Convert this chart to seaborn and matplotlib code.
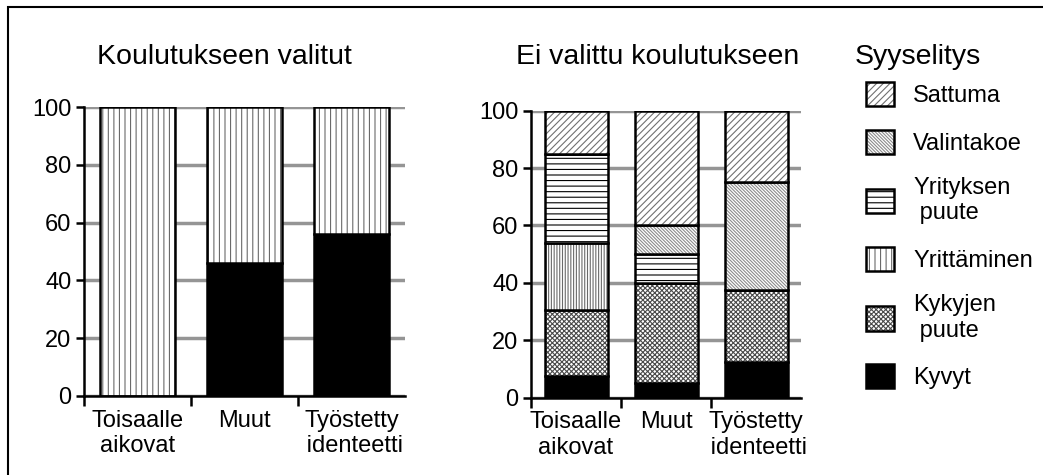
import matplotlib
matplotlib.use("Agg")
import matplotlib.pyplot as plt
from matplotlib.colors import to_rgba
from matplotlib.patches import Patch, Rectangle
import seaborn as sns

categories = ["Toisaalle\naikovat", "Muut", "Työstetty\n identeetti"]
reasons = ["Sattuma", "Valintakoe", "Yrityksen\n puute", "Yrittäminen", "Kykyjen\n puute", "Kyvyt"]

# Koulutukseen valitut, % (bottom -> top: Kyvyt, Yrittäminen)
valitut_kyvyt = [0, 46, 56]
valitut_yrittaminen = [100, 54, 44]

# Ei valittu koulutukseen, %
ei_kyvyt = [7.5, 5, 12.5]
ei_kykyjen_puute = [23, 35, 25]
ei_yrittaminen = [23.5, 0, 0]
ei_yrityksen_puute = [31, 10, 0]
ei_valintakoe = [0, 10, 37.5]
ei_sattuma = [15, 40, 25]

titles = ["Koulutukseen valitut", "Ei valittu koulutukseen"]
legend_title = "Syyselitys"
yticks = [0, 20, 40, 60, 80, 100]

# face colour, hatch, hatch colour
styles = {
    "Sattuma": ("white", "/////", "#707070"),
    "Valintakoe": ("white", "\\\\\\\\\\\\\\\\\\\\", "#8c8c8c"),
    "Yrityksen\n puute": ("white", "---", "black"),
    "Yrittäminen": ("white", "|||", "#6a6a6a"),
    "Kykyjen\n puute": ("white", "xxxxxxx", "#4a4a4a"),
    "Kyvyt": ("black", "", "black"),
}

sns.set_style("ticks")
plt.rcParams["font.family"] = ["Liberation Sans", "DejaVu Sans"]
plt.rcParams["text.color"] = "black"
plt.rcParams["axes.edgecolor"] = "black"
plt.rcParams["xtick.color"] = "black"
plt.rcParams["ytick.color"] = "black"
plt.rcParams["hatch.linewidth"] = 0.8

W, H = 1043, 475
fig = plt.figure(figsize=(W / 100, H / 100), dpi=100)
ax1 = fig.add_axes([84 / W, 1 - 396 / H, 321 / W, 289 / H])
ax2 = fig.add_axes([531 / W, 1 - 397.5 / H, 270 / W, 286.8 / H])


def draw_stack(ax, series, dense=False):
    bottom = [0] * len(categories)
    for name, values in series:
        face, hatch, hcolor = styles[name]
        if dense and name == "Yrittäminen":
            hatch = "||||||"
        sns.barplot(x=categories, y=values, bottom=bottom, color=face, width=0.7,
                    saturation=1, errorbar=None, edgecolor="black", linewidth=1.8, ax=ax)
        for bar in ax.containers[-1]:
            if hatch:
                bar.set_hatch(hatch)
                bar._hatch_color = to_rgba(hcolor)
        bottom = [b + v for b, v in zip(bottom, values)]


draw_stack(ax1, [("Kyvyt", valitut_kyvyt), ("Yrittäminen", valitut_yrittaminen)])
draw_stack(ax2, [("Kyvyt", ei_kyvyt), ("Kykyjen\n puute", ei_kykyjen_puute),
                 ("Yrittäminen", ei_yrittaminen), ("Yrityksen\n puute", ei_yrityksen_puute),
                 ("Valintakoe", ei_valintakoe), ("Sattuma", ei_sattuma)], dense=True)

for ax in (ax1, ax2):
    ax.set_ylim(0, 100)
    ax.set_xlim(-0.5, 2.5)
    ax.set_yticks(yticks)
    ax.yaxis.grid(True, color="#959595", linewidth=2.5)
    ax.xaxis.grid(False)
    ax.set_axisbelow(True)
    sns.despine(ax=ax)
    for s in ("left", "bottom"):
        ax.spines[s].set_linewidth(1.8)
    ax.set_xticks([-0.5, 0.5, 1.5], minor=True)
    ax.tick_params(axis="x", which="major", length=0, pad=10, labelsize=17)
    ax.tick_params(axis="x", which="minor", length=7, width=1.8)
    ax.tick_params(axis="y", length=6, width=1.8, pad=3, labelsize=17)
    ax.set_xlabel("")
    ax.set_ylabel("")

fig.text(97 / W, 1 - 64 / H, titles[0], fontsize=20.5, va="baseline")
fig.text(516 / W, 1 - 64 / H, titles[1], fontsize=20.5, va="baseline")
fig.text(855 / W, 1 - 64 / H, legend_title, fontsize=20.5, va="baseline")

handles = []
for name in reasons:
    face, hatch, hcolor = styles[name]
    h = Patch(facecolor=face, edgecolor="black", hatch=hatch or None, linewidth=1.8)
    h._hatch_color = to_rgba(hcolor)
    handles.append(h)
leg = fig.legend(handles, reasons, loc="upper left", bbox_to_anchor=(866 / W, 1 - 82 / H),
                 frameon=False, fontsize=17, handlelength=1.2, handleheight=1.2,
                 handletextpad=0.8, labelspacing=0.95, borderpad=0, borderaxespad=0)
for p, name in zip(leg.get_patches(), reasons):
    p._hatch_color = to_rgba(styles[name][2])

fig.add_artist(Rectangle((8 / W, -0.5), 2, 0.5 + 1 - 7 / H, transform=fig.transFigure,
                         fill=False, edgecolor="black", linewidth=1.5))

fig.savefig("out.png", dpi=100)
